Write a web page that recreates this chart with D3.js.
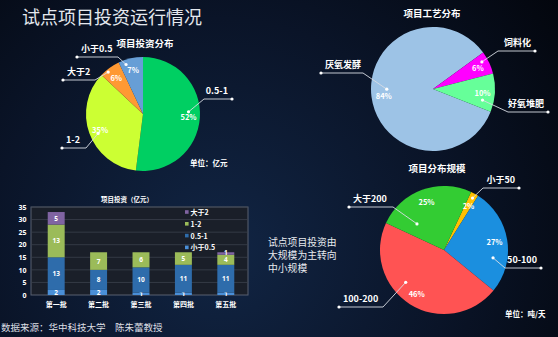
<!DOCTYPE html>
<html>
<head>
<meta charset="utf-8">
<script src="https://cdn.jsdelivr.net/npm/d3@7"></script>
<style>
html, body { margin: 0; padding: 0; background: #050a14; }
svg { display: block; font-family: "Noto Sans CJK SC", "Noto Sans", sans-serif; }
</style>
</head>
<body>
<svg id="chart" width="558" height="337"></svg>
<script>
// ---- data ----
const investCats = ['0.5-1', '1-2', '大于2', '小于0.5'];
const investShare = [52, 35, 6, 7];

const techCats = ['厌氧发酵', '饲料化', '好氧堆肥'];
const techShare = [84, 6, 10];

const sizeCats = ['小于50', '50-100', '100-200', '大于200'];
const sizeShare = [2, 27, 46, 25];

const batches = ['第一批', '第二批', '第三批', '第四批', '第五批'];
const seriesNames = ['小于0.5', '0.5-1', '1-2', '大于2'];
const below05 = [2, 2, 1, 1, 1];
const from05to1 = [13, 8, 10, 11, 11];
const from1to2 = [13, 7, 6, 5, 4];
const above2 = [5, 0, 0, 0, 1];
const yTicks = [0, 5, 10, 15, 20, 25, 30, 35];

// ---- setup ----
const svg = d3.select('#chart');
const W = 558, H = 337;

const defs = svg.append('defs');
const bg = defs.append('radialGradient').attr('id', 'bg')
    .attr('gradientUnits', 'userSpaceOnUse')
    .attr('cx', 220).attr('cy', 250).attr('r', 420);
bg.append('stop').attr('offset', '0%').attr('stop-color', '#112544');
bg.append('stop').attr('offset', '55%').attr('stop-color', '#0a1428');
bg.append('stop').attr('offset', '100%').attr('stop-color', '#03060d');
svg.append('rect').attr('width', W).attr('height', H).attr('fill', 'url(#bg)');

svg.append('text')
    .attr('x', 22).attr('y', 24)
    .attr('fill', '#e4e8ee').attr('font-size', 18)
    .text('试点项目投资运行情况');

/**
 * Pie with leader lines. cfg.leaders: [dotDx, dotDy, elbowDx, elbowDy, endDx] relative to label / centre
 */
function drawPie(cfg) {
    const g = svg.append('g').attr('transform', `translate(${cfg.cx},${cfg.cy})`);
    const pie = d3.pie().sort(null)
        .startAngle(cfg.start).endAngle(cfg.start + 2 * Math.PI);
    const arcs = pie(cfg.values);
    const arc = d3.arc().innerRadius(0).outerRadius(cfg.r);
    const labelArc = d3.arc().innerRadius(cfg.r * 0.8).outerRadius(cfg.r * 0.8);

    g.selectAll('.slice').data(arcs).join('path')
        .attr('class', 'slice')
        .attr('d', arc)
        .attr('fill', (d, i) => cfg.colors[i]);

    arcs.forEach((d, i) => {
        const c = labelArc.centroid(d);
        const L = cfg.leaders[i];
        const dot = [c[0] + L[0], c[1] + L[1]];
        const elbow = [L[2], L[3]];
        const end = [L[4], L[3]];
        g.append('polyline')
            .attr('points', [dot, elbow, end].map(p => p.join(',')).join(' '))
            .attr('fill', 'none').attr('stroke', '#d8dce4').attr('stroke-width', 0.9);
        g.append('circle').attr('cx', dot[0]).attr('cy', dot[1]).attr('r', 1.6).attr('fill', '#fff');
        g.append('circle').attr('cx', end[0]).attr('cy', end[1]).attr('r', 1.6).attr('fill', '#fff');
        g.append('text')
            .attr('x', c[0]).attr('y', c[1])
            .attr('text-anchor', 'middle').attr('dominant-baseline', 'central')
            .attr('fill', '#fff').attr('font-size', 7.5).attr('font-weight', 'bold')
            .text(cfg.values[i] + '%');
        const right = end[0] > 0;
        g.append('text')
            .attr('x', right ? end[0] - 4 : end[0] + 4)
            .attr('y', end[1] - 5.5)
            .attr('text-anchor', right ? 'end' : 'start')
            .attr('fill', '#fff').attr('font-size', 9).attr('font-weight', 'bold')
            .text(cfg.cats[i]);
    });

    svg.append('text')
        .attr('x', cfg.titleX).attr('y', cfg.titleY)
        .attr('text-anchor', 'middle')
        .attr('fill', '#fff').attr('font-size', 9.5).attr('font-weight', 'bold')
        .text(cfg.title);
}

drawPie({
    cx: 143, cy: 114, r: 57, start: 0,
    cats: investCats, values: investShare,
    colors: ['#00cf62', '#ccff33', '#ff9933', '#679ed6'],
    leaders: [[0, -5, 61, -15, 89], [-2, 4, -57, 34, -81], [-8, -5, -48, -34, -80], [-7, -5, -25, -57, -66]],
    title: '项目投资分布', titleX: 145, titleY: 47
});

drawPie({
    cx: 433, cy: 89, r: 62, start: 111.6 * Math.PI / 180,
    cats: techCats, values: techShare,
    colors: ['#9dc3e6', '#ff00ff', '#66ff99'],
    leaders: [[3, -6, -70, -16, -112], [4, -6, 65, -38, 102], [0, 8, 75, 23, 115]],
    title: '项目工艺分布', titleX: 432, titleY: 17
});

drawPie({
    cx: 444, cy: 250, r: 64, start: 25 * Math.PI / 180,
    cats: sizeCats, values: sizeShare,
    colors: ['#ffc000', '#1b8fdf', '#ff5353', '#33cc33'],
    leaders: [[4, -7, 39, -62, 75], [-1.5, 16, 61, 18, 97], [-11, -11, -61, 57, -105], [-9.5, 22, -51, -43, -95]],
    title: '项目分布规模', titleX: 437, titleY: 172
});

svg.append('text').attr('x', 190).attr('y', 166)
    .attr('fill', '#fff').attr('font-size', 7.5).attr('font-weight', 'bold').text('单位：亿元');
svg.append('text').attr('x', 505).attr('y', 317)
    .attr('fill', '#fff').attr('font-size', 7.5).attr('font-weight', 'bold').text('单位：吨/天');

const note = ['试点项目投资由', '大规模为主转向', '中小规模'];
svg.append('g').selectAll('text').data(note).join('text')
    .attr('x', 268).attr('y', (d, i) => 245.5 + i * 13)
    .attr('fill', '#e8eaee').attr('font-size', 9.8)
    .text(d => d);

// ---- stacked bars ----
const frame = {left: 31, right: 248, top: 207, bottom: 295};
const x = d3.scaleBand().domain(batches).range([35, 247]).paddingInner(0.6).paddingOuter(0.3);
const y = d3.scaleLinear().domain([0, 35]).range([frame.bottom, frame.top]);
const seriesColors = ['#4a8fd8', '#2e6cab', '#9bbb59', '#8064a2'];

const rows = batches.map((b, i) => ({
    batch: b,
    '小于0.5': below05[i], '0.5-1': from05to1[i], '1-2': from1to2[i], '大于2': above2[i]
}));
const stacked = d3.stack().keys(seriesNames)(rows);

const bars = svg.append('g');
bars.append('rect')
    .attr('x', frame.left).attr('y', frame.top)
    .attr('width', frame.right - frame.left).attr('height', frame.bottom - frame.top)
    .attr('fill', '#1a1f29').attr('stroke', '#596171').attr('stroke-width', 1);
bars.selectAll('.grid').data(yTicks.slice(1)).join('line')
    .attr('class', 'grid')
    .attr('x1', frame.left).attr('x2', frame.right)
    .attr('y1', d => y(d)).attr('y2', d => y(d))
    .attr('stroke', '#3b414d').attr('stroke-width', 0.8);

const yAxis = d3.axisLeft(y).tickValues(yTicks).tickSize(0).tickPadding(4);
const yAxisG = bars.append('g').attr('transform', `translate(${frame.left - 0.5},0)`).call(yAxis);
yAxisG.select('.domain').remove();
yAxisG.selectAll('text').attr('fill', '#fff').attr('font-size', 7).attr('font-weight', 'bold')
    .attr('font-family', '"Noto Sans", sans-serif');

const xAxis = d3.axisBottom(x).tickSize(0).tickPadding(7);
const xAxisG = bars.append('g').attr('transform', `translate(0,${frame.bottom})`).call(xAxis);
xAxisG.select('.domain').remove();
xAxisG.selectAll('text').attr('fill', '#fff').attr('font-size', 7).attr('font-weight', 'bold')
    .attr('font-family', '"Noto Sans CJK SC", sans-serif');

const layers = bars.selectAll('.layer').data(stacked).join('g')
    .attr('class', 'layer')
    .attr('fill', (d, i) => seriesColors[i]);
layers.selectAll('rect').data(d => d).join('rect')
    .attr('x', d => x(d.data.batch))
    .attr('y', d => y(d[1]))
    .attr('width', x.bandwidth())
    .attr('height', d => y(d[0]) - y(d[1]));
layers.selectAll('text').data(d => d.filter(p => p[1] - p[0] > 0)).join('text')
    .attr('x', d => x(d.data.batch) + x.bandwidth() / 2)
    .attr('y', d => y((d[0] + d[1]) / 2) - (d[1] - d[0] < 2 && d[0] > 0 ? 1 : 0))
    .attr('text-anchor', 'middle').attr('dominant-baseline', 'central')
    .attr('fill', '#fff').attr('font-size', 6.5).attr('font-weight', 'bold')
    .attr('font-family', '"Noto Sans", sans-serif')
    .text(d => d[1] - d[0]);

// legend, top item first
const legendItems = seriesNames.slice().reverse();
const legend = bars.selectAll('.legend').data(legendItems).join('g')
    .attr('class', 'legend')
    .attr('transform', (d, i) => `translate(185,${212 + i * 11.8})`);
legend.append('rect').attr('x', 0).attr('y', -1.8).attr('width', 3.6).attr('height', 3.6)
    .attr('fill', d => seriesColors[seriesNames.indexOf(d)]);
legend.append('text').attr('x', 5.5).attr('y', 0)
    .attr('dominant-baseline', 'central')
    .attr('fill', '#fff').attr('font-size', 7).attr('font-weight', 'bold')
    .text(d => d);

svg.append('text').attr('x', 127).attr('y', 202)
    .attr('text-anchor', 'middle')
    .attr('fill', '#fff').attr('font-size', 6.5).attr('font-weight', 'bold')
    .text('项目投资（亿元）');

svg.append('text').attr('x', 1).attr('y', 331)
    .attr('fill', '#dcdfe4').attr('font-size', 9.5)
    .text('数据来源：华中科技大学　陈朱蕾教授');
</script>
</body>
</html>
